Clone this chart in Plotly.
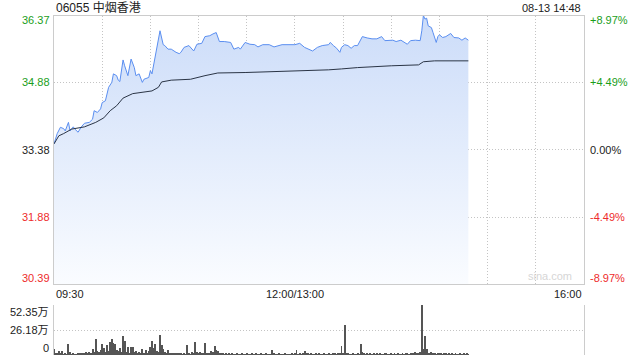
import plotly.graph_objects as go

# ---------------- data ----------------
prev_close = 33.38
y_ticks = [30.39, 31.88, 33.38, 34.88, 36.37]
pct_labels = ["-8.97%", "-4.49%", "0.00%", "+4.49%", "+8.97%"]
x_labels = ["09:30", "12:00/13:00", "16:00"]
x_label_pos = [0, 150, 330]

# minutes since 09:30 (trading minutes, lunch removed) and price
price_min = [0, 2, 4, 6, 7, 9, 10, 12, 13, 15, 17, 19, 22, 24, 25, 27, 29, 30, 32, 33,
             34, 36, 37, 39, 40, 41, 43, 44, 46, 48, 50, 51, 53, 55, 56, 59, 60, 61, 63, 64,
             66, 68, 69, 71, 73, 76, 78, 79, 81, 84, 87, 89, 92, 94, 97, 99, 101, 103, 106, 110,
             112, 115, 116, 119, 122, 125, 127, 130, 134, 137, 142, 150, 153, 156, 159, 161, 164, 167, 171, 172,
             174, 176, 178, 179, 181, 183, 185, 187, 189, 192, 195, 198, 201, 204, 206, 209, 211, 213, 216, 220,
             222, 225, 228, 229, 230, 231, 232, 233, 235, 236, 238, 239, 240, 242, 244, 247, 249, 252, 254, 256,
             258]
price_val = [33.51, 33.74, 33.88, 33.85, 33.80, 33.99, 33.80, 33.89, 33.84, 33.77, 33.89, 33.97, 33.99, 34.06, 34.25, 34.21, 34.29, 34.43, 34.47, 34.66,
             34.77, 34.88, 35.07, 35.03, 34.93, 34.90, 35.38, 35.25, 35.03, 35.40, 35.21, 35.03, 35.07, 34.88, 34.95, 34.99, 35.14, 35.07, 35.44, 35.66,
             36.03, 35.72, 35.70, 35.62, 35.62, 35.55, 35.52, 35.55, 35.66, 35.70, 35.58, 35.73, 35.75, 35.90, 35.92, 35.96, 35.99, 35.79, 35.79, 35.77,
             35.62, 35.66, 35.62, 35.77, 35.73, 35.72, 35.67, 35.72, 35.72, 35.67, 35.72, 35.72, 35.75, 35.66, 35.62, 35.58, 35.66, 35.70, 35.72, 35.77,
             35.70, 35.64, 35.55, 35.66, 35.72, 35.70, 35.64, 35.70, 35.70, 35.90, 35.87, 35.85, 35.85, 35.90, 35.81, 35.81, 35.82, 35.79, 35.82, 35.73,
             35.81, 35.82, 35.81, 36.03, 36.37, 36.29, 36.31, 36.14, 36.10, 35.99, 35.77, 35.90, 35.94, 35.88, 35.90, 35.97, 35.88, 35.87, 35.82, 35.87,
             35.82]

avg_min = [0, 3, 6, 11, 19, 26, 31, 35, 39, 43, 49, 55, 61, 65, 67, 73, 79, 85, 94, 102,
           119, 139, 171, 179, 189, 210, 227, 230, 237, 258]
avg_val = [33.51, 33.69, 33.74, 33.84, 33.89, 33.99, 34.09, 34.25, 34.36, 34.53, 34.63, 34.66, 34.69, 34.77, 34.89, 34.93, 34.94, 34.95, 35.03, 35.09,
           35.10, 35.12, 35.16, 35.18, 35.21, 35.25, 35.27, 35.34, 35.36, 35.36]

# per-minute volume, in 万 shares
volume = [6, 2, 1.5, 4.2, 1.5, 4.2, 1, 1.5, 1, 11.5,
          3, 1, 1.5, 1, 1, 1.5, 2, 2.5, 2, 2.5,
          3, 2.5, 3, 2, 6, 3, 16.4, 4, 3, 5,
          11.5, 7, 3, 10.5, 4, 13.3, 16.4, 12.6, 11.5, 5,
          4, 7, 3, 20, 14.6, 3, 8, 2, 8, 8,
          3, 4, 2.4, 3, 2, 6, 1.7, 5, 1.5, 4,
          8.7, 14.6, 7, 11.5, 4, 3, 21, 10.5, 6, 3,
          2, 5, 2.4, 2, 2, 1.5, 2, 1.5, 2, 1.5,
          1, 2, 1, 10.5, 1.7, 1, 3, 1.5, 13.6, 3,
          2, 3, 1.5, 2, 12.6, 2, 1.5, 2, 4, 3,
          9.4, 5, 4, 2, 2, 1.5, 1, 1.5, 1, 1.5,
          1, 1.5, 1, 1, 1.5, 1, 1, 1.5, 1, 1,
          1.5, 1, 1, 1.5, 1, 1, 1.5, 1, 1, 1.5,
          1, 1, 1.5, 1, 1, 1, 5, 1.5, 1, 1,
          1.5, 1, 1, 1, 1.5, 1, 1, 1, 1.5, 1,
          1.5, 5, 1, 1.5, 1, 2, 4, 1.5, 2, 1,
          1.5, 1, 1, 2, 1, 1.5, 1, 1, 2, 1,
          1, 1.5, 1, 1, 2, 1.5, 1, 2.5, 2, 9.4,
          2, 31.4, 2, 1.5, 1, 1, 1.5, 1, 1, 1.5,
          1, 11.5, 3, 1.5, 1, 2, 1, 1.5, 1, 2,
          1, 1.5, 1, 1.5, 1, 1, 2, 1.5, 1, 1,
          1.5, 1, 2, 1, 1.5, 1, 1, 2, 1, 1.5,
          2, 1, 2.5, 1.5, 2, 3, 2, 2.5, 3, 52.35,
          6, 20, 6, 2, 1.5, 3, 2, 1.5, 1, 2,
          2.5, 1.5, 1, 2, 1.5, 1, 2, 1, 1.5, 1,
          1.5, 1, 1, 1.5, 1, 2, 1, 1.5, 1]
vol_ticks = [0, 26.18, 52.35]
vol_labels = ["0", "26.18万", "52.35万"]

title_text = "06055 中烟香港"
date_text = "08-13 14:48"

# ---------------- styling ----------------
FONT = "Liberation Sans, Arial, Noto Sans CJK SC, sans-serif"
GREEN = "#1a9e1a"
RED = "#ee2b2b"
DARK = "#222222"
GRID = "#c4c4c4"
GDASH = "1px,2px"
BORDER = "#cccccc"

fig = go.Figure()

fig.add_trace(go.Scatter(
    x=price_min, y=price_val, mode="lines",
    line=dict(color="#5a8ef0", width=1),
    fill="tozeroy",
    fillgradient=dict(type="vertical",
                      colorscale=[[0, "rgba(250,252,255,1)"], [1, "rgba(205,221,249,1)"]],
                      start=30.39, stop=36.2),
    hoverinfo="skip", xaxis="x", yaxis="y"))

fig.add_trace(go.Scatter(
    x=avg_min, y=avg_val, mode="lines",
    line=dict(color="#2a3445", width=1),
    hoverinfo="skip", xaxis="x", yaxis="y"))

fig.add_trace(go.Bar(
    x=list(range(len(volume))), y=volume,
    marker=dict(color="#555555", line=dict(width=0)),
    width=0.6, hoverinfo="skip", xaxis="x2", yaxis="y2"))

grid_vals = list(range(0, 331, 30))

fig.update_layout(
    width=640, height=360,
    margin=dict(l=54, r=56, t=0, b=0),
    paper_bgcolor="white", plot_bgcolor="white",
    showlegend=False,
    font=dict(family=FONT, size=11, color=DARK),
    bargap=0,
    xaxis=dict(domain=[0, 1], range=[0, 330], tickvals=grid_vals, showticklabels=False,
               showgrid=True, gridcolor=GRID, griddash=GDASH, gridwidth=1,
               showline=True, linecolor=BORDER, linewidth=1, mirror=True,
               zeroline=False, ticks="", anchor="y", fixedrange=True),
    yaxis=dict(domain=[1 - 284 / 360, 1 - 15.5 / 360], range=[30.39, 36.37],
               tickvals=y_ticks, showticklabels=False,
               showgrid=True, gridcolor=GRID, griddash=GDASH, gridwidth=1,
               showline=True, linecolor=BORDER, linewidth=1, mirror=True,
               zeroline=False, ticks="", anchor="x", fixedrange=True),
    xaxis2=dict(domain=[0, 1], range=[0, 330], showticklabels=False, showgrid=False,
                showline=False, zeroline=False, ticks="", anchor="y2", fixedrange=True),
    yaxis2=dict(domain=[1 - 355 / 360, 1 - 305 / 360], range=[0, 52.35],
                tickvals=vol_ticks, showticklabels=False,
                showgrid=True, gridcolor=GRID, griddash=GDASH, gridwidth=1,
                showline=True, linecolor=BORDER, linewidth=1, mirror=True,
                zeroline=False, ticks="", anchor="x2", fixedrange=True),
)

ann = []
# title and date
ann.append(dict(text=title_text, xref="paper", yref="paper", x=0, y=1 - 7.5 / 360,
                xanchor="left", yanchor="middle", showarrow=False,
                font=dict(size=12, color=DARK)))
ann.append(dict(text=date_text, xref="paper", yref="paper", x=1, y=1 - 7.5 / 360,
                xanchor="right", yanchor="middle", showarrow=False, xshift=-1,
                font=dict(size=11, color=DARK)))

# price and percent labels
shifts = [6, 0, 0, 0, -5]
for v, p, s in zip(y_ticks, pct_labels, shifts):
    if v > prev_close + 0.001:
        c = GREEN
    elif v < prev_close - 0.001:
        c = RED
    else:
        c = DARK
    ann.append(dict(text=f"{v:.2f}", xref="paper", yref="y", x=0, y=v,
                    xanchor="right", yanchor="middle", showarrow=False,
                    xshift=-2, yshift=s, font=dict(size=11, color=c)))
    ann.append(dict(text=p, xref="paper", yref="y", x=1, y=v,
                    xanchor="left", yanchor="middle", showarrow=False,
                    xshift=4, yshift=s, font=dict(size=11, color=c)))

# time labels
anchors = ["left", "center", "right"]
for t, pos, a in zip(x_labels, x_label_pos, anchors):
    ann.append(dict(text=t, xref="x", yref="paper", x=pos, y=1 - 293.5 / 360,
                    xanchor=a, yanchor="middle", showarrow=False,
                    font=dict(size=11, color=DARK)))

# volume labels
vshifts = [7, 0, -7]
for v, lab, s in zip(vol_ticks, vol_labels, vshifts):
    ann.append(dict(text=lab, xref="paper", yref="y2", x=0, y=v,
                    xanchor="right", yanchor="middle", showarrow=False,
                    xshift=-3, yshift=s, font=dict(size=11, color=DARK)))

# watermark
ann.append(dict(text="sina.com", xref="paper", yref="y", x=1, y=30.39,
                xanchor="right", yanchor="bottom", showarrow=False,
                xshift=-10, yshift=0, font=dict(size=11, color="#d6d6d6")))

fig.update_layout(annotations=ann)

fig.write_html("out.html")
